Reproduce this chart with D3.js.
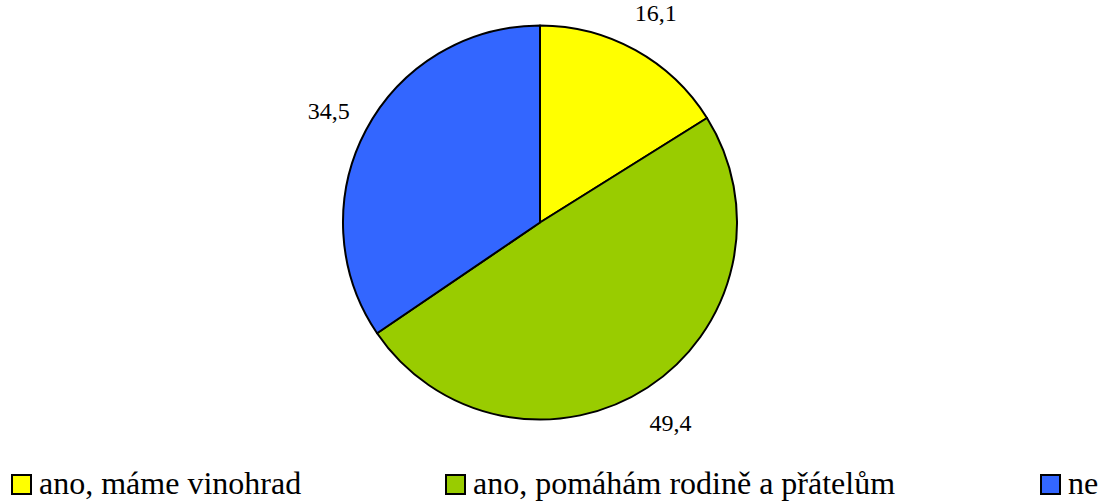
<!DOCTYPE html>
<html>
<head>
<meta charset="utf-8">
<script src="https://cdn.jsdelivr.net/npm/d3@7"></script>
<style>
  body { margin: 0; background: #fff; }
  svg text { font-family: "Liberation Serif", "Times New Roman", Tinos, serif !important; }
</style>
</head>
<body>
<svg id="chart" width="1107" height="502"></svg>
<script>
// data
const categories = ["ano, máme vinohrad", "ano, pomáhám rodině a přátelům", "ne"];
const values = [16.1, 49.4, 34.5];
const colors = ["#FFFF00", "#99CC00", "#3366FF"];

const fontFamily = "'Liberation Serif', 'Times New Roman', Tinos, serif";

const svg = d3.select("#chart");

// pie layout
const cx = 540, cy = 222.5, radius = 197;
const labelRadius = 239;

const pie = d3.pie().sort(null).value(d => d.value);
const arc = d3.arc().innerRadius(0).outerRadius(radius);
const labelArc = d3.arc().innerRadius(labelRadius).outerRadius(labelRadius);

const rows = categories.map((c, i) => ({ name: c, value: values[i], color: colors[i] }));
const arcs = pie(rows);

const g = svg.append("g").attr("transform", `translate(${cx},${cy})`);

g.selectAll("path")
    .data(arcs)
    .enter()
    .append("path")
    .attr("d", arc)
    .attr("fill", d => d.data.color)
    .attr("stroke", "#000")
    .attr("stroke-width", 2)
    .attr("stroke-linejoin", "round");

svg.selectAll(".lbl")
    .data(arcs)
    .enter()
    .append("text")
    .attr("class", "lbl")
    .attr("x", d => cx + labelArc.centroid(d)[0])
    .attr("y", d => cy + labelArc.centroid(d)[1] + 8)
    .attr("text-anchor", "middle")
    .attr("font-family", fontFamily)
    .style("font-family", fontFamily, "important")
    .attr("font-size", 24)
    .text(d => d3.format(".1f")(d.data.value).replace(".", ","));

// legend
const legendX = [11, 445, 1040];
const legendY = 474;

svg.selectAll(".swatch")
    .data(rows)
    .enter()
    .append("rect")
    .attr("class", "swatch")
    .attr("x", (d, i) => legendX[i] + 1)
    .attr("y", legendY + 1)
    .attr("width", 19).attr("height", 19)
    .attr("fill", d => d.color)
    .attr("stroke", "#000")
    .attr("stroke-width", 2);

svg.selectAll(".legend-text")
    .data(rows)
    .enter()
    .append("text")
    .attr("class", "legend-text")
    .attr("x", (d, i) => legendX[i] + 28)
    .attr("y", legendY + 20)
    .attr("font-family", fontFamily)
    .style("font-family", fontFamily, "important")
    .attr("font-size", 32)
    .text(d => d.name);
</script>
</body>
</html>
